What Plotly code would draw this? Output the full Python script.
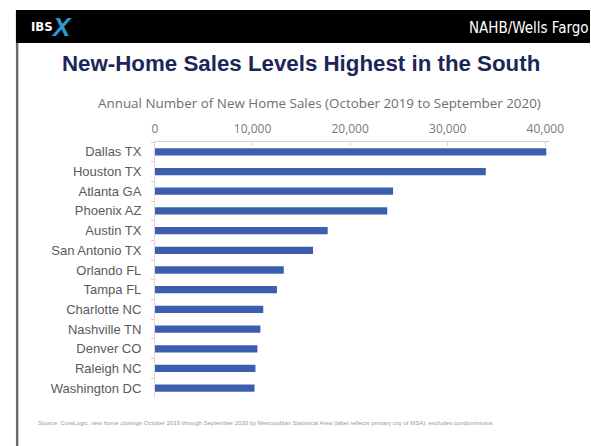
import plotly.graph_objects as go

# Annual new-home sales by metro (Oct 2019 - Sep 2020)
metros = [
    "Dallas TX", "Houston TX", "Atlanta GA", "Phoenix AZ", "Austin TX",
    "San Antonio TX", "Orlando FL", "Tampa FL", "Charlotte NC",
    "Nashville TN", "Denver CO", "Raleigh NC", "Washington DC",
]
sales = [40100, 33900, 24400, 23800, 17700, 16200, 13200, 12500,
         11100, 10800, 10500, 10300, 10200]
tick_values = [0, 10000, 20000, 30000, 40000]
tick_labels = ["0", "10,000", "20,000", "30,000", "40,000"]

# layout positions below are given on a 591 x 446 grid
W, H = 591, 446
FIG_W = 604


def px(x):
    return x / W


def py(y):
    return 1 - y / H


fig = go.Figure(
    go.Bar(
        x=sales,
        y=metros,
        orientation="h",
        marker=dict(color="#3b5fae", line=dict(width=0)),
        hoverinfo="x+y",
    )
)

x_max = 40500
x0_px, x40_px = 153, 546
x_right_px = x0_px + (x40_px - x0_px) * x_max / 40000

NARROW = "DejaVu Sans Condensed, Liberation Sans"

fig.update_layout(
    width=FIG_W,
    height=H,
    autosize=False,
    margin=dict(l=0, r=0, t=0, b=0),
    paper_bgcolor="white",
    plot_bgcolor="white",
    showlegend=False,
    bargap=0.63,
    xaxis=dict(
        domain=[px(x0_px), px(x_right_px)],
        side="top",
        range=[0, x_max],
        tickvals=tick_values,
        ticktext=tick_labels,
        showgrid=False,
        zeroline=False,
        showline=True,
        linecolor="#d4d4d4",
        linewidth=1,
        ticks="inside",
        ticklen=4,
        tickcolor="#d4d4d4",
        ticklabelstandoff=3,
        tickfont=dict(family="Open Sans", size=12, color="#7a7a7a"),
        fixedrange=True,
    ),
    yaxis=dict(
        domain=[py(398), py(142)],
        autorange="reversed",
        showgrid=False,
        zeroline=False,
        showline=True,
        linecolor="#e2d6d6",
        linewidth=1,
        ticks="outside",
        tickson="boundaries",
        ticklen=3,
        tickcolor="#e6caca",
        ticklabelstandoff=10,
        tickfont=dict(family="Liberation Sans", size=13, color="#5a5a5a"),
        fixedrange=True,
    ),
    shapes=[
        # black header band
        dict(type="rect", xref="paper", yref="paper",
             x0=px(13), x1=1, y0=py(43), y1=py(10),
             fillcolor="black", line=dict(width=0), layer="below"),
        # left border rule
        dict(type="rect", xref="paper", yref="paper",
             x0=px(13), x1=px(15.5), y0=0, y1=py(43),
             fillcolor="#6b6b6b", line=dict(width=0), layer="below"),
    ],
    annotations=[
        dict(text="<b>IBS</b>", x=px(26), y=py(27), xref="paper", yref="paper",
             xanchor="left", yanchor="middle", showarrow=False,
             font=dict(family=NARROW, size=13, color="white")),
        dict(text="<b><i>X</i></b>", x=px(46), y=py(27), xref="paper", yref="paper",
             xanchor="left", yanchor="middle", showarrow=False,
             font=dict(family="Liberation Sans", size=26, color="#2a9ad6")),
        dict(text="NAHB/Wells Fargo", x=px(592), y=py(28), xref="paper", yref="paper",
             xanchor="right", yanchor="middle", showarrow=False,
             font=dict(family=NARROW, size=15, color="white")),
        dict(text="<b>New-Home Sales Levels Highest in the South</b>",
             x=px(300), y=py(64), xref="paper", yref="paper",
             xanchor="center", yanchor="middle", showarrow=False,
             font=dict(family="Liberation Sans", size=22.3, color="#1c2757")),
        dict(text="Annual Number of New Home Sales (October 2019 to September 2020)",
             x=px(318.5), y=py(103), xref="paper", yref="paper",
             xanchor="center", yanchor="middle", showarrow=False,
             font=dict(family="Open Sans", size=13.4, color="#6e6e6e")),
        dict(text="Source: CoreLogic, new home closings October 2019 through September 2020 "
                  "by Metropolitan Statistical Area (label reflects primary city of MSA); "
                  "excludes condominiums",
             x=px(33), y=py(423), xref="paper", yref="paper",
             xanchor="left", yanchor="middle", showarrow=False,
             font=dict(family="Liberation Sans", size=6, color="#9a9a9a")),
    ],
)

fig.write_html("out.html")
